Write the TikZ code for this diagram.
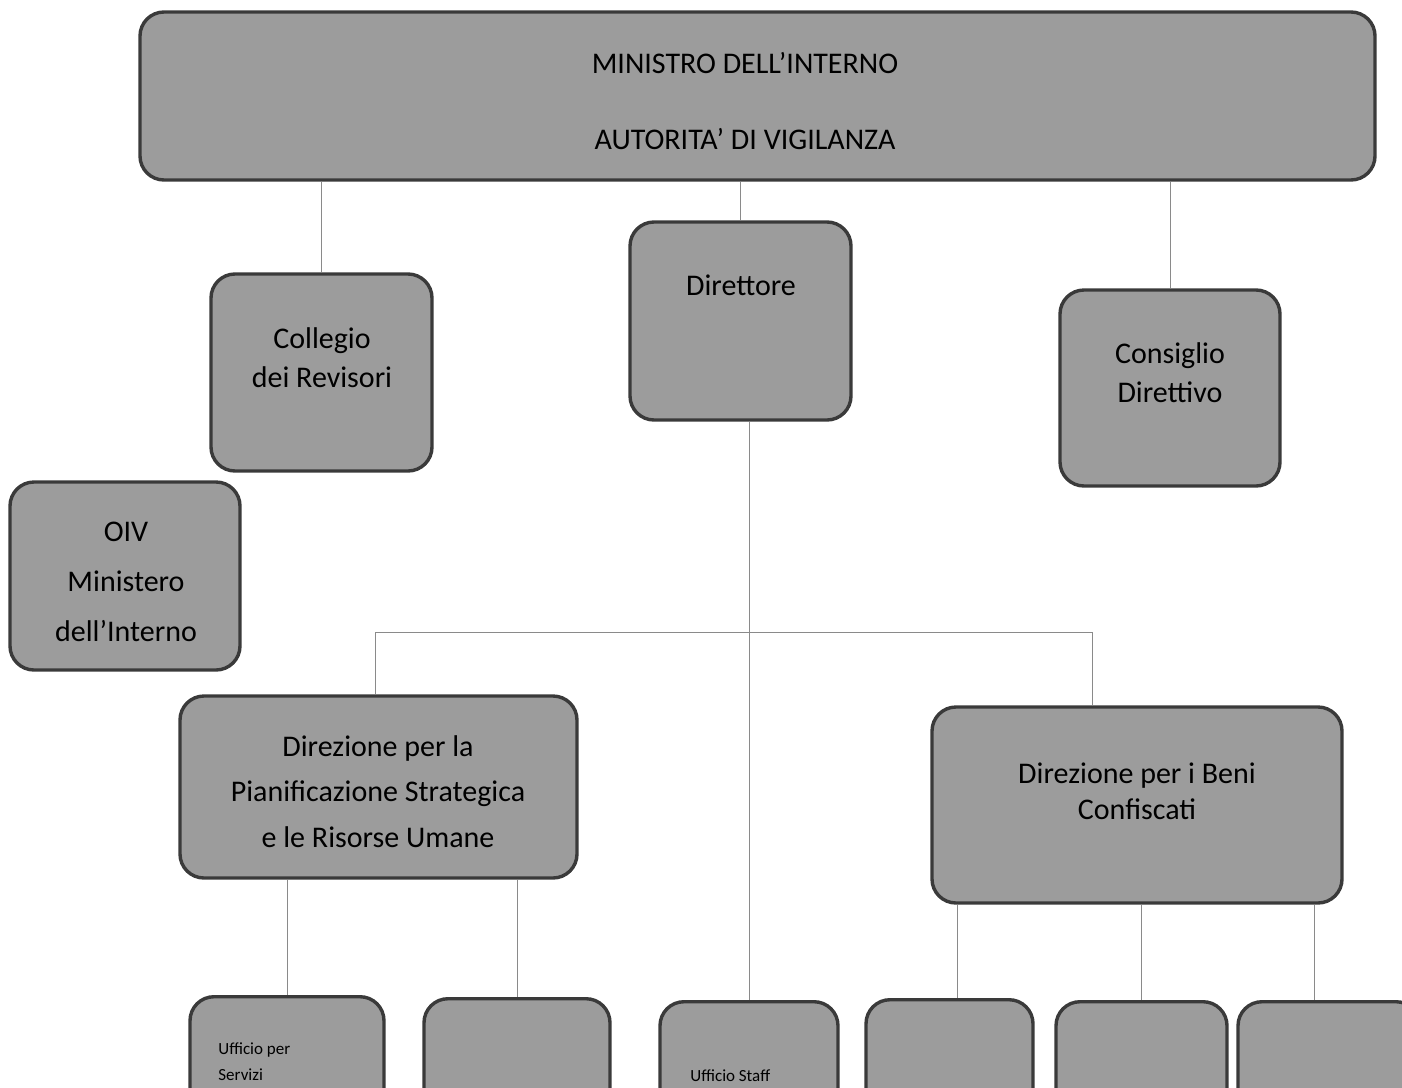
\documentclass[tikz,border=0pt]{standalone}
\usepackage{fontspec}
\setmainfont{Carlito}
\usetikzlibrary{positioning}

\definecolor{boxgray}{HTML}{9C9C9C}
\definecolor{rimgray}{HTML}{3A3A3A}
\definecolor{linegray}{HTML}{8A8A8A}

\begin{document}
\begin{tikzpicture}[x=0.5pt,y=-0.5pt,
 ente/.style={draw=rimgray,line width=1.7pt,fill=boxgray,rounded corners=12pt,inner sep=0pt},
 voce/.style={font=\fontsize{15}{19.5}\selectfont,align=center,inner sep=0pt},
 piccola/.style={font=\fontsize{8.5}{13}\selectfont,align=left,anchor=west,inner sep=0pt},
 filo/.style={draw=linegray,line width=0.5pt}]
 \useasboundingbox (0,0) rectangle (1402,1087);
 \clip (0,0) rectangle (1402,1087);

 \node[ente,minimum width=617.5pt,minimum height=84pt] (ministro) at (757.5,96) {};
 \node[ente,minimum width=110.5pt,minimum height=98.5pt] (collegio) at (321.5,372.5) {};
 \node[ente,minimum width=110.5pt,minimum height=99pt] (direttore) at (740.5,321) {};
 \node[ente,minimum width=110pt,minimum height=98pt] (consiglio) at (1170,388) {};
 \node[ente,minimum width=115pt,minimum height=94pt] (oiv) at (125,576) {};
 \node[ente,minimum width=198.5pt,minimum height=91pt] (dirpian) at (378.5,787) {};
 \node[ente,minimum width=205pt,minimum height=98pt] (dirbeni) at (1137,805) {};

 \node[ente,anchor=north,minimum width=97pt,minimum height=100pt] (uffserv) at (287,995) {};
 \node[ente,anchor=north,minimum width=93pt,minimum height=100pt] (uffdue) at (517,997) {};
 \node[ente,anchor=north,minimum width=89pt,minimum height=100pt] (uffstaff) at (749,1000) {};
 \node[ente,anchor=north,minimum width=83.5pt,minimum height=100pt] (uffbeni1) at (949.5,998) {};
 \node[ente,anchor=north,minimum width=85.5pt,minimum height=100pt] (uffbeni2) at (1141.5,1000) {};
 \node[ente,anchor=north,minimum width=91pt,minimum height=100pt] (uffbeni3) at (1329,1000) {};

 \node[voce] (ministro-t) at (745,101) {MINISTRO DELL'INTERNO\\[18.5pt]AUTORITA' DI VIGILANZA};
 \node[voce] (collegio-t) at (322,357.5) {Collegio\\dei Revisori};
 \node[voce] (direttore-t) at (741,285) {Direttore};
 \node[voce] (consiglio-t) at (1170,372.5) {Consiglio\\Direttivo};
 \node[voce] (oiv-t) at (126,581.5) {OIV\\[5.5pt]Ministero\\[5.5pt]dell'Interno};
 \node[voce] (dirpian-t) at (378,791.5) {Direzione per la\\[3.25pt]Pianificazione Strategica\\[3.25pt]e le Risorse Umane};
 \node[voce] (dirbeni-t) at (1137,791) {Direzione per i Beni\\[-1.5pt]Confiscati};
 \node[piccola] (uffserv-t) at (218,1062) {Ufficio per\\Servizi};
 \node[piccola] (uffstaff-t) at (690,1076) {Ufficio Staff};

 \draw[filo] (ministro.south -| collegio.north) -- (collegio.north);
 \draw[filo] (ministro.south -| direttore.north) -- (direttore.north);
 \draw[filo] (ministro.south -| consiglio.north) -- (consiglio.north);
 \draw[filo] (direttore.south -| uffstaff.north) -- (uffstaff.north);
 \coordinate (snodo-sx) at (375,632);
 \coordinate (snodo-dx) at (1092,632);
 \draw[filo] (dirpian.north -| snodo-sx) -- (snodo-sx) -- (snodo-dx) -- (dirbeni.north -| snodo-dx);
 \draw[filo] (dirpian.south -| uffserv.north) -- (uffserv.north);
 \draw[filo] (dirpian.south -| uffdue.north) -- (uffdue.north);
 \draw[filo] ([xshift=3.75pt]uffbeni1.north |- dirbeni.south) -- ([xshift=3.75pt]uffbeni1.north);
 \draw[filo] (dirbeni.south -| uffbeni2.north) -- (uffbeni2.north);
 \draw[filo] ([xshift=-7.5pt]uffbeni3.north |- dirbeni.south) -- ([xshift=-7.5pt]uffbeni3.north);
\end{tikzpicture}
\end{document}
